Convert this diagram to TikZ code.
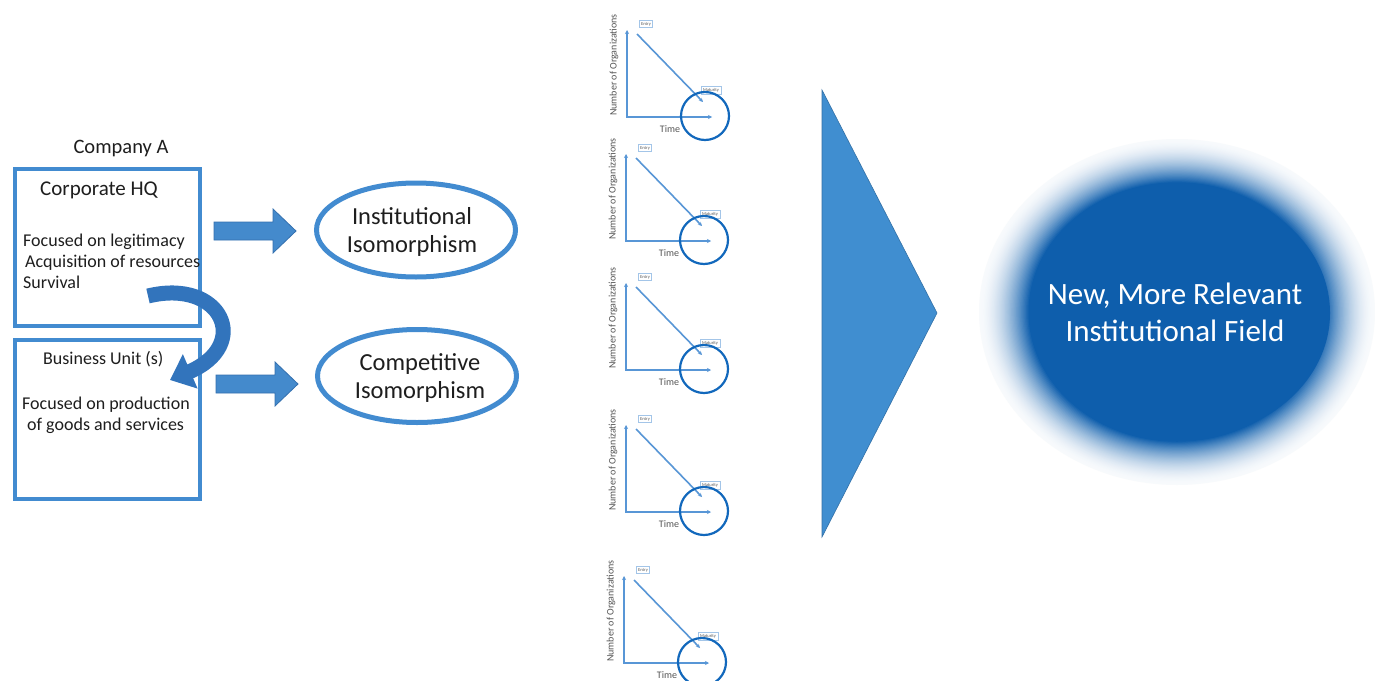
\documentclass[tikz,border=0pt]{standalone}
\usepackage{fontspec}
\setmainfont{Carlito}
\usetikzlibrary{arrows.meta}
\definecolor{boxblue}{RGB}{66,139,208}
\definecolor{arrowblue}{RGB}{68,138,204}
\definecolor{arrowedge}{RGB}{52,112,175}
\definecolor{curveblue}{RGB}{50,116,188}
\definecolor{triblue}{RGB}{64,142,208}
\definecolor{glowc}{RGB}{14,94,172}
\definecolor{chartline}{RGB}{88,150,214}
\definecolor{circblue}{RGB}{18,104,188}
\definecolor{txt}{RGB}{30,30,30}
\definecolor{charttxt}{RGB}{85,85,85}
\tikzset{
  unitbox/.style={draw=boxblue, line width=4},
  isoell/.style={draw=boxblue, line width=5},
  bodytext/.style={anchor=base west, text=txt, inner sep=0, font=\fontsize{18}{21}\selectfont},
  headtext/.style={anchor=base west, text=txt, inner sep=0, font=\fontsize{21}{24}\selectfont},
  isotext/.style={align=center, text=txt, inner sep=0, font=\fontsize{24.5}{28}\selectfont},
  blockarrow/.style={fill=arrowblue, draw=arrowedge, line width=0.8},
  cline/.style={draw=chartline, line width=1.6},
  tinybox/.style={draw=chartline!55, line width=0.7, fill=white, inner sep=2, text=charttxt, font=\fontsize{4.5}{5}\selectfont},
  minichart/.pic={
    \draw[cline,{Stealth[length=4,width=4]}-{Stealth[length=4,width=4]}] (0,-87) -- (0,0) -- (85,0);
    \draw[cline,-{Stealth[length=4,width=4]}] (10,-83) -- (76,-15);
    \node[tinybox] (-entry) at (19,-93) {Entry};
    \node[tinybox] (-mat) at (84,-27) {Maturity};
    \draw[draw=circblue, line width=2.2] (78,-1) circle (24);
    \node[text=charttxt, inner sep=0, font=\fontsize{10}{10}\selectfont] (-time) at (43,12) {Time};
    \node[rotate=90, text=charttxt, inner sep=0, font=\fontsize{10}{10}\selectfont] (-lab) at (-13,-52) {Number of Organizations};
  }
}
\begin{document}
\begin{tikzpicture}[x=1pt, y=-1pt]
\useasboundingbox (0,0) rectangle (1375,680);
\fill[white] (0,0) rectangle (1375,680);

% left boxes
\node[anchor=base, text=txt, inner sep=0, font=\fontsize{20.5}{24}\selectfont] (compA) at (121,153) {Company A};
\draw[unitbox] (15,169) rectangle (200,326);
\draw[unitbox] (15,340) rectangle (200,499);
\node[headtext] (hq) at (40,195) {Corporate HQ};
\node[bodytext] (hq1) at (23,246) {Focused on legitimacy};
\node[bodytext] (hq2) at (25,267) {Acquisition of resources};
\node[bodytext] (hq3) at (23,288) {Survival};
\node[bodytext] (bu) at (43,364) {Business Unit (s)};
\node[bodytext] (bu1) at (22,409) {Focused on production};
\node[bodytext] (bu2) at (27,430) {of goods and services};

% curved arrow
\coordinate (cs) at (148,296);
\coordinate (ce) at (170,380);
\draw[curveblue, line width=15, -{Triangle[width=36,length=22]}] (cs) .. controls (222,278) and (252,345) .. (ce);

% block arrows
\draw[blockarrow] (214,222) -- (273,222) -- (273,209) -- (296,231) -- (273,253) -- (273,240) -- (214,240) -- cycle;
\draw[blockarrow] (216,375) -- (275,375) -- (275,362) -- (298,384) -- (275,406) -- (275,393) -- (216,393) -- cycle;

% isomorphism ellipses
\draw[isoell] (416,230) ellipse [x radius=99.5, y radius=47];
\node[isotext] (inst) at (412,232) {Institutional\\Isomorphism};
\draw[isoell] (417,376) ellipse [x radius=99.5, y radius=46.5];
\node[isotext] (comp) at (420,378) {Competitive\\Isomorphism};

% mini charts
\pic (c1) at (627,117) {minichart};
\pic (c2) at (626,241) {minichart};
\pic (c3) at (626,370) {minichart};
\pic (c4) at (626,512) {minichart};
\pic (c5) at (624,663) {minichart};

% big triangle
\fill[triblue] (822,90) -- (937,313) -- (822,537) -- cycle;
\draw[triblue!80!black, line width=0.6] (822,90) -- (937,313) -- (822,537) -- cycle;

% glowing field (soft edge built from nested ellipses)
\foreach \i in {0,...,40}{
  \pgfmathsetmacro{\t}{\i/40}
  \pgfmathsetmacro{\f}{1-0.25*\t}
  \pgfmathsetmacro{\p}{3+97*(\t^1.8)}
  \fill[glowc!\p!white] (1177,312) ellipse [x radius=198*\f, y radius=173*\f];
}
\fill[glowc] (1180,313) ellipse [x radius=150, y radius=126];
\node[align=center, text=white, inner sep=0, font=\fontsize{31}{37}\selectfont] (field) at (1175,312) {New, More Relevant\\Institutional Field};
\end{tikzpicture}
\end{document}
